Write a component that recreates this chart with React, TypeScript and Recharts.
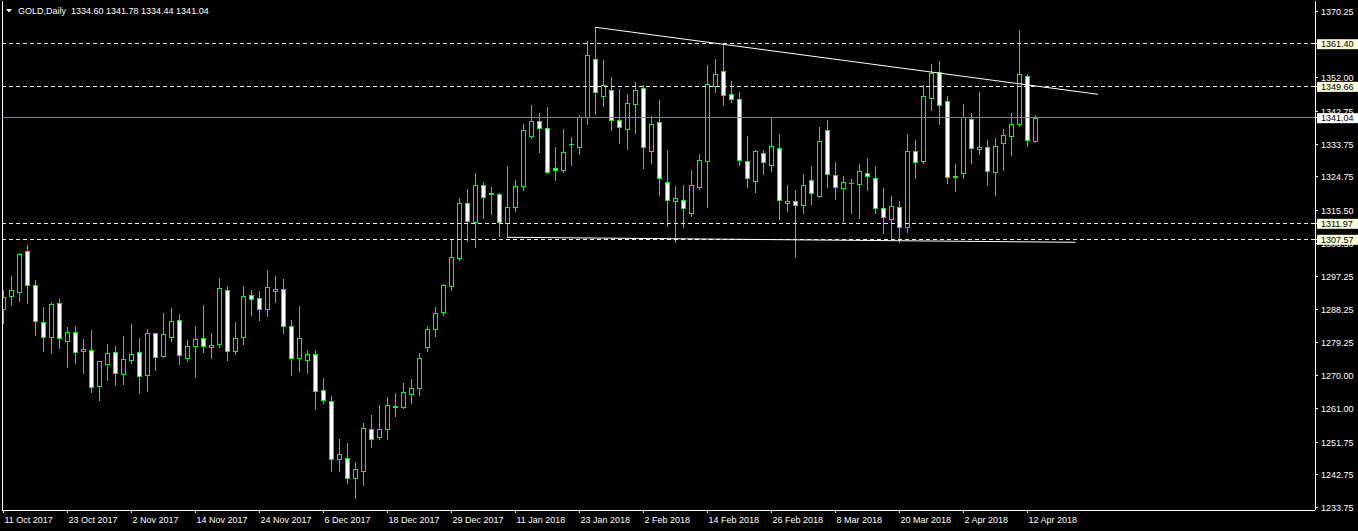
import React from 'react';
import { ComposedChart, Bar, XAxis, YAxis, ReferenceLine } from 'recharts';

const symbolName = 'GOLD,Daily';

// one label every 8 daily bars, first bar = 11 Oct 2017
const dateLabels = [
  '11 Oct 2017', '23 Oct 2017', '2 Nov 2017', '14 Nov 2017', '24 Nov 2017', '6 Dec 2017',
  '18 Dec 2017', '29 Dec 2017', '11 Jan 2018', '23 Jan 2018', '2 Feb 2018', '14 Feb 2018',
  '26 Feb 2018', '8 Mar 2018', '20 Mar 2018', '2 Apr 2018', '12 Apr 2018',
];

const opens = [
  1288.31, 1291.89, 1293.15, 1304.27, 1294.92, 1284.73, 1280.61, 1289.96, 1279.5, 1281.98,
  1276.75, 1277.03, 1267.12, 1273.17, 1276.48, 1270.42, 1274.28, 1276.48, 1270.15, 1281.71,
  1275.38, 1280.77, 1285.28, 1274.83, 1278.13, 1280.33, 1277.85, 1278.68, 1293.54, 1276.75,
  1280.61, 1292.16, 1291.34, 1288.31, 1293.43, 1293.81, 1283.63, 1274.83, 1274.28, 1275.93,
  1266.02, 1262.99, 1247.2, 1247.31, 1241.97, 1243.89, 1255.29, 1253.09, 1255.29, 1261.62,
  1261.51, 1265.08, 1266.73, 1278.02, 1282.97, 1287.65, 1294.81, 1302.51, 1317.48, 1312.42,
  1322.43, 1320.23, 1319.96, 1312.14, 1316.38, 1322.33, 1336.09, 1340.05, 1338.12, 1327.11,
  1326.56, 1333.88, 1333.06, 1341.31, 1357.11, 1347.09, 1348.58, 1340.32, 1337.85, 1344.73,
  1349.13, 1331.79, 1339.77, 1323.26, 1318.03, 1318.31, 1314.73, 1322.05, 1329.04, 1349.68,
  1353.81, 1347.48, 1346.1, 1329.04, 1323.7, 1331.24, 1327.94, 1332.62, 1317.48, 1318.03,
  1316.93, 1323.81, 1319.57, 1337.57, 1325.19, 1321.61, 1323.15, 1322.71, 1325.74, 1324.36,
  1316.11, 1313.24, 1316.38, 1310.88, 1331.79, 1329.04, 1346.38, 1353.53, 1345.55, 1324.91,
  1325.9, 1340.6, 1332.34, 1332.89, 1326.18, 1333.99, 1335.92, 1339.39, 1352.43, 1334.6,
];

const highs = [
  1293.62, 1297.47, 1303.89, 1306.01, 1296.37, 1288.94, 1290.32, 1291.15, 1283.44, 1283.71,
  1280.14, 1282.61, 1274.08, 1278.76, 1278.21, 1280.96, 1284.27, 1280.41, 1282.97, 1281.9,
  1287.29, 1288.67, 1287.02, 1279.86, 1283.71, 1289.49, 1281.79, 1296.92, 1294.72, 1284.82,
  1294.72, 1293.62, 1293.35, 1299.13, 1297.47, 1296.65, 1285.37, 1289.22, 1277.11, 1277.11,
  1269.4, 1264.45, 1252.62, 1251.52, 1246.29, 1257.02, 1259.22, 1261.97, 1264.18, 1265.28,
  1268.03, 1269.13, 1276.28, 1283.71, 1288.94, 1295.27, 1307.66, 1319.02, 1321.42, 1325.82,
  1323.34, 1321.97, 1320.32, 1327.75, 1323.89, 1339.31, 1344.53, 1342.33, 1343.98, 1332.98,
  1337.93, 1335.73, 1341.78, 1362.15, 1365.92, 1356.84, 1352.24, 1348.94, 1347.56, 1350.86,
  1350.04, 1341.42, 1345.91, 1332.15, 1322.24, 1322.52, 1326.65, 1331.05, 1355.54, 1357.19,
  1361.6, 1351.14, 1348.11, 1336.0, 1332.15, 1332.15, 1340.87, 1336.55, 1322.52, 1321.14,
  1325.55, 1327.75, 1338.48, 1340.41, 1328.76, 1324.99, 1324.09, 1328.3, 1329.95, 1327.75,
  1321.69, 1319.49, 1318.11, 1336.55, 1334.9, 1350.04, 1355.82, 1356.64, 1347.01, 1328.3,
  1344.81, 1342.25, 1348.11, 1334.9, 1335.45, 1337.93, 1342.33, 1365.17, 1353.07, 1341.78,
];

const lows = [
  1284.46, 1289.58, 1290.68, 1290.13, 1281.32, 1276.92, 1276.37, 1277.74, 1272.51, 1273.62,
  1270.86, 1265.63, 1263.43, 1268.94, 1267.56, 1267.84, 1273.45, 1265.36, 1265.91, 1271.69,
  1275.27, 1279.67, 1273.34, 1274.17, 1269.76, 1276.64, 1274.99, 1278.02, 1274.44, 1276.09,
  1278.84, 1286.82, 1285.45, 1286.55, 1290.4, 1281.87, 1270.31, 1271.41, 1270.86, 1260.96,
  1262.44, 1243.89, 1243.89, 1240.59, 1236.46, 1239.96, 1250.5, 1252.7, 1252.7, 1258.95,
  1261.23, 1262.61, 1264.81, 1276.92, 1281.05, 1286.82, 1293.7, 1301.96, 1307.19, 1305.54,
  1313.52, 1314.62, 1308.57, 1308.13, 1315.45, 1321.14, 1335.53, 1331.6, 1325.9, 1323.98,
  1326.18, 1328.1, 1331.13, 1339.39, 1342.14, 1344.34, 1337.57, 1334.16, 1332.51, 1336.91,
  1327.28, 1328.65, 1319.85, 1311.32, 1306.91, 1310.88, 1314.07, 1321.5, 1316.55, 1348.19,
  1344.62, 1345.44, 1328.1, 1322.05, 1320.67, 1325.63, 1326.45, 1313.24, 1315.45, 1302.7,
  1314.89, 1317.37, 1319.3, 1322.05, 1318.75, 1312.69, 1314.89, 1313.52, 1321.22, 1314.73,
  1309.39, 1307.38, 1306.91, 1309.67, 1324.53, 1328.49, 1343.24, 1339.39, 1323.15, 1320.95,
  1324.53, 1328.65, 1331.13, 1322.6, 1319.85, 1326.73, 1330.86, 1338.84, 1333.33, 1334.44,
];

const closes = [
  1291.61, 1293.54, 1303.53, 1294.92, 1285.01, 1280.77, 1289.77, 1280.33, 1281.98, 1276.48,
  1277.3, 1266.85, 1274.0, 1276.2, 1270.7, 1274.55, 1275.93, 1269.87, 1281.71, 1275.1,
  1281.43, 1285.01, 1275.65, 1278.13, 1280.05, 1278.13, 1278.4, 1294.09, 1276.75, 1280.33,
  1291.89, 1291.06, 1288.31, 1294.36, 1293.81, 1283.63, 1274.83, 1280.33, 1275.93, 1265.74,
  1263.27, 1247.03, 1248.41, 1242.02, 1244.28, 1255.56, 1252.53, 1255.29, 1261.89, 1261.51,
  1265.47, 1266.57, 1274.83, 1282.81, 1287.21, 1294.92, 1302.62, 1317.48, 1312.69, 1322.43,
  1319.13, 1320.12, 1312.42, 1316.38, 1322.16, 1337.57, 1340.05, 1338.12, 1326.01, 1326.56,
  1331.52, 1333.72, 1341.15, 1358.21, 1348.03, 1349.96, 1340.32, 1338.4, 1345.0, 1348.58,
  1332.89, 1339.22, 1324.36, 1318.31, 1318.86, 1316.11, 1322.43, 1329.32, 1350.23, 1352.98,
  1347.2, 1346.27, 1329.32, 1324.36, 1331.79, 1328.76, 1333.17, 1318.31, 1318.03, 1316.93,
  1322.43, 1320.23, 1334.54, 1325.46, 1321.89, 1323.26, 1322.99, 1326.29, 1324.91, 1316.11,
  1313.63, 1316.66, 1310.88, 1331.79, 1328.76, 1346.93, 1353.26, 1344.45, 1324.64, 1324.72,
  1341.15, 1332.62, 1332.89, 1326.29, 1333.17, 1336.2, 1339.22, 1352.98, 1334.82, 1341.04,
];

const priceTicks = [
  1370.25, 1352.0, 1342.75, 1333.75, 1324.75, 1315.5, 1306.5, 1297.25,
  1288.25, 1279.25, 1270.0, 1261.0, 1251.75, 1242.75, 1233.75,
];

const hLevels = [1361.4, 1349.66, 1311.97, 1307.57];
const bidPrice = 1341.04;

// trend lines: bar index / price
const resistanceLine = [{ x: 74, y: 1365.92 }, { x: 136.8, y: 1347.48 }];
const supportLine = [{ x: 63, y: 1308.13 }, { x: 134, y: 1306.75 }];

const FONT = '"Liberation Sans", Arial, sans-serif';
const LIME = '#00ff00';

const candles = opens.map((o, i) => ({
  i,
  o,
  h: highs[i],
  l: lows[i],
  c: closes[i],
  range: [lows[i], highs[i]],
}));

const Candle = (props: any) => {
  const { x, y, width, height, payload } = props;
  if (!payload) return null;
  const top = Math.min(y, y + height);
  const bot = Math.max(y, y + height);
  const { o, h, l, c } = payload;
  const span = h - l || 1;
  const py = (p: number) => top + ((h - p) / span) * (bot - top);
  const cx = Math.floor(x + width / 2) + 0.5;
  const wickTop = Math.round(py(h));
  const wickBot = Math.round(py(l)) + 1;
  const bTop = Math.round(py(Math.max(o, c)));
  const bBot = Math.round(py(Math.min(o, c)));
  const bull = c >= o;
  return (
    <g shapeRendering="crispEdges">
      <line x1={cx} x2={cx} y1={wickTop} y2={wickBot} stroke={LIME} strokeWidth={1} />
      {bBot - bTop >= 1 ? (
        <rect
          x={cx - 2}
          y={bTop + 0.5}
          width={4}
          height={bBot - bTop}
          fill={bull ? '#000' : '#fff'}
          stroke={LIME}
          strokeWidth={1}
        />
      ) : (
        <line x1={cx - 2.5} x2={cx + 2.5} y1={bTop + 0.5} y2={bTop + 0.5} stroke={LIME} strokeWidth={1} />
      )}
    </g>
  );
};

const DateTick = (props: any) => {
  const { x, y, payload } = props;
  const label = dateLabels[Math.round(payload.value / 8)];
  return (
    <text x={x + 1} y={y + 10} fill="#fff" fontSize={9} fontFamily={FONT} textAnchor="start">
      {label}
    </text>
  );
};

// price scale labels; level prices get a tag box drawn over the scale
const PriceTick = (props: any) => {
  const { x, y, payload } = props;
  const v = payload.value as number;
  const isBid = v === bidPrice;
  const isLevel = hLevels.includes(v);
  if (isBid || isLevel) {
    return (
      <g>
        <rect x={x - 4} y={y - 4.5} width={41} height={10} fill={isBid ? '#ffffff' : '#fbfbd6'} />
        <text x={x} y={y + 3.5} fill="#000" fontSize={9} fontFamily={FONT}>
          {v.toFixed(2)}
        </text>
      </g>
    );
  }
  return (
    <text x={x} y={y + 3.5} fill="#fff" fontSize={9} fontFamily={FONT}>
      {v.toFixed(2)}
    </text>
  );
};

export default function App() {
  const last = candles[candles.length - 1];
  const header = `${symbolName}  ${last.o.toFixed(2)} ${last.h.toFixed(2)} ${last.l.toFixed(2)} ${last.c.toFixed(2)}`;

  return (
    <div style={{ position: 'fixed', left: 0, top: 0, width: 1358, height: 531, background: '#000' }}>
      <ComposedChart
        width={1358}
        height={531}
        data={candles}
        margin={{ top: 1, right: 0, bottom: 0, left: 2 }}
      >
        <XAxis
          dataKey="i"
          type="number"
          domain={[-0.1875, 163.9375]}
          allowDataOverflow
          ticks={dateLabels.map((_, k) => k * 8)}
          interval={0}
          height={21}
          tickSize={3}
          tickMargin={0}
          axisLine={{ stroke: '#fff', shapeRendering: 'crispEdges' }}
          tickLine={{ stroke: '#fff', shapeRendering: 'crispEdges' }}
          tick={<DateTick />}
        />
        <YAxis
          orientation="right"
          type="number"
          domain={[1233.08, 1373.15]}
          allowDataOverflow
          ticks={[...priceTicks, bidPrice, ...hLevels]}
          interval={0}
          width={43}
          tickSize={3}
          tickMargin={3}
          axisLine={{ stroke: '#fff', shapeRendering: 'crispEdges' }}
          tickLine={{ stroke: '#fff', shapeRendering: 'crispEdges' }}
          tick={<PriceTick />}
        />
        <ReferenceLine x={-0.125} stroke="#fff" shapeRendering="crispEdges" />
        <ReferenceLine y={bidPrice} stroke="#778899" shapeRendering="crispEdges" />
        {hLevels.map((lv) => (
          <ReferenceLine
            key={lv}
            y={lv}
            stroke="#f2f2dc"
            strokeDasharray="4 3"
            shapeRendering="crispEdges"
          />
        ))}
        <ReferenceLine segment={resistanceLine} stroke="#fff" strokeWidth={1} ifOverflow="visible" />
        <ReferenceLine segment={supportLine} stroke="#fff" strokeWidth={1} ifOverflow="visible" />
        <Bar dataKey="range" barSize={5} isAnimationActive={false} shape={(p: any) => <Candle {...p} />} />
      </ComposedChart>
      <svg width={300} height={20} style={{ position: 'absolute', left: 0, top: 0 }}>
        <polygon points="6,9 12,9 9,12.5" fill="#fff" />
        <text x={18} y={13.5} fill="#fff" fontSize={9} fontFamily={FONT} xmlSpace="preserve">
          {header}
        </text>
      </svg>
    </div>
  );
}
